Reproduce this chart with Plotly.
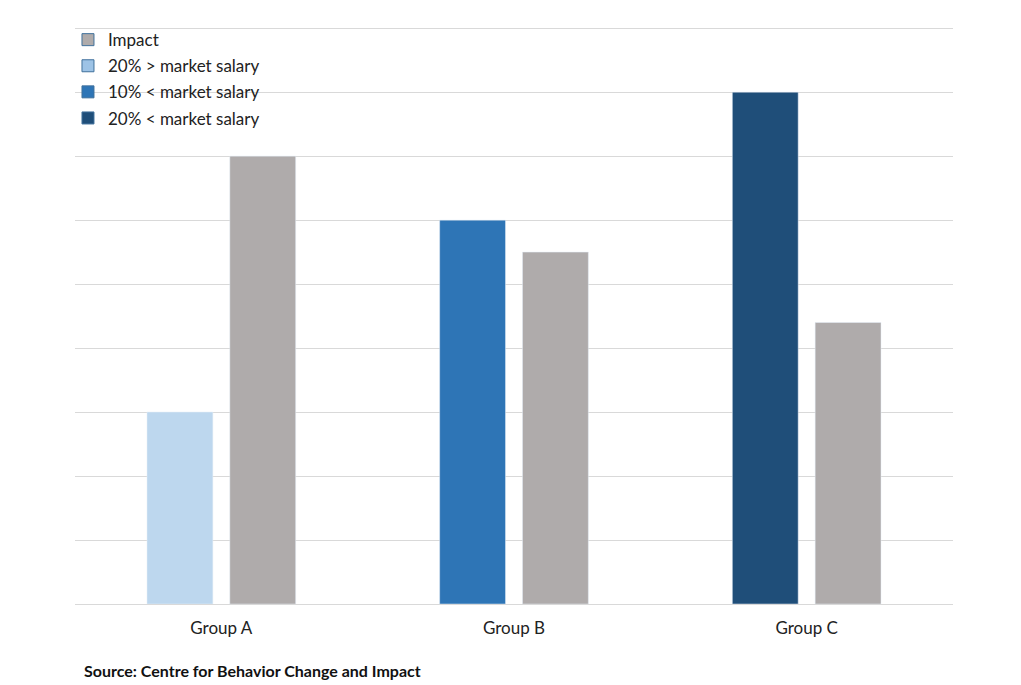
import plotly.graph_objects as go

groups = ["Group A", "Group B", "Group C"]
impact = [7, 5.5, 4.4]
above20 = [3, None, None]
below10 = [None, 6, None]
below20 = [None, None, 8]

GRAY = "#AFABAB"
W = 0.225
fig = go.Figure()

series = [
    ("20% > market salary", above20, "#BDD7EE", "#9DC3E6"),
    ("10% < market salary", below10, "#2E75B6", "#2E75B6"),
    ("20% < market salary", below20, "#1F4E79", "#1F4E79"),
]

fig.add_trace(go.Bar(x=groups, y=impact, name="Impact", marker_color=GRAY,
                     width=W, offset=0.029, showlegend=False))
for name, vals, col, lcol in series:
    fig.add_trace(go.Bar(x=groups, y=vals, name=name, marker_color=col,
                         width=W, offset=-0.254, showlegend=False))

# legend entries
fig.add_trace(go.Bar(x=[groups[0]], y=[None], name="Impact", marker_color=GRAY,
                     marker_line=dict(color="#41719C", width=1), legendgroup="g0"))
for i, (name, vals, col, lcol) in enumerate(series):
    fig.add_trace(go.Bar(x=[groups[0]], y=[None], name=name, marker_color=lcol,
                         marker_line=dict(color="#41719C", width=1),
                         legendgroup=f"g{i+1}"))

fig.update_layout(
    width=1021, height=685,
    margin=dict(l=75, r=68, t=25, b=81),
    paper_bgcolor="white", plot_bgcolor="white",
    barmode="overlay",
    font=dict(family="Lato, Open Sans, sans-serif", size=17, color="#222222"),
    xaxis=dict(showgrid=False, showline=True, linecolor="#D9D9D9", linewidth=1,
               ticks="", tickfont=dict(size=17, color="#222222"), range=[-0.5, 2.5],
               ticklabelstandoff=9),
    yaxis=dict(range=[0, 9.05], dtick=1, showgrid=True, gridcolor="#D9D9D9", gridwidth=1,
               showticklabels=False, zeroline=False, ticks=""),
    legend=dict(x=-0.008, y=1.005, xanchor="left", yanchor="top", bgcolor="rgba(0,0,0,0)",
                font=dict(size=17, color="#222222"), traceorder="grouped",
                tracegroupgap=1),
    annotations=[dict(text="<b>Source: Centre for Behavior Change and Impact</b>",
                      xref="paper", yref="paper", x=0.008, y=-0.115, xanchor="left",
                      yanchor="middle", showarrow=False,
                      font=dict(size=16, color="#111111"))],
)

fig.write_html("out.html")
